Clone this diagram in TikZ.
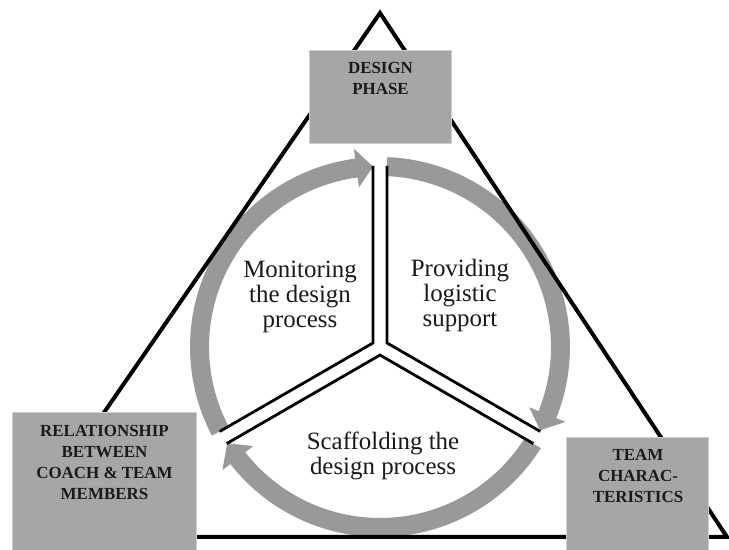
\documentclass[tikz,border=0pt]{standalone}
\usepackage{fontspec}
\setmainfont{Liberation Serif}
\definecolor{ringgray}{HTML}{999999}
\definecolor{boxgray}{HTML}{A6A6A6}
\definecolor{boxedge}{HTML}{CFCFCF}
\definecolor{textblack}{HTML}{1A1A1A}
\begin{document}
\begin{tikzpicture}[x=1bp,y=1bp,
  band/.style={fill=ringgray, draw=none},
  divider/.style={draw=black, line width=2.8bp, line join=miter},
  frame/.style={draw=black, line width=4bp, line join=miter},
  box/.style={fill=boxgray, draw=boxedge, line width=0.8bp, inner sep=0, anchor=south west},
  boxtext/.style={anchor=base, font=\fontsize{17}{21}\selectfont\bfseries, text=textblack, inner sep=0},
  cycletext/.style={anchor=base, font=\fontsize{25}{25}\selectfont, text=textblack, inner sep=0}]
\useasboundingbox (0,0) rectangle (729,550);
\fill[white] (0,0) rectangle (729,550);
\coordinate (C) at (380,203);
% ring arcs with arrowheads
\begin{scope}[shift={(C)}]
\fill[band] (207.8:190) arc[start angle=207.8,end angle=97.5,radius=190] -- (97.5:200) -- (92.2:180.5) -- (97.5:161) -- (97.5:171) arc[start angle=97.5,end angle=207.8,radius=171] -- cycle;
\fill[band] (87.8:190) arc[start angle=87.8,end angle=-22,radius=190] -- (-22:200) -- (-27.5:180.5) -- (-22:161) -- (-22:171) arc[start angle=-22,end angle=87.8,radius=171] -- cycle;
\fill[band] (-32.2:190) arc[start angle=-32.2,end angle=-142,radius=190] -- (-142:200) -- (-147.8:180.5) -- (-142:161) -- (-142:171) arc[start angle=-142,end angle=-32.2,radius=171] -- cycle;
\coordinate (k1) at (150:8.08);
\coordinate (k2) at (30:8.08);
\coordinate (k3) at (270:8.08);
\end{scope}
% triangle
\coordinate (apex) at (380,537);
\coordinate (bl) at (18,13);
\coordinate (br) at (727,13);
\draw[frame] (apex) -- (br) -- (bl) -- cycle;
% dividers
\draw[divider] ([shift={(90:177)}]k1) -- (k1) -- ([shift={(210:177)}]k1);
\draw[divider] ([shift={(90:177)}]k2) -- (k2) -- ([shift={(330:177)}]k2);
\draw[divider] ([shift={(210:177)}]k3) -- (k3) -- ([shift={(330:177)}]k3);
% boxes
\node[box, minimum width=143, minimum height=94] (design) at (309,406) {};
\node[box, minimum width=185, minimum height=146] (relation) at (12,-8) {};
\node[box, minimum width=143, minimum height=121] (team) at (566,-8) {};
\node[boxtext] (designtext) at (380.5,476) {\begin{tabular}[t]{@{}c@{}}DESIGN\\PHASE\end{tabular}};
\node[boxtext] (relationtext) at (104.5,113) {\begin{tabular}[t]{@{}c@{}}RELATIONSHIP\\BETWEEN\\COACH \& TEAM\\MEMBERS\end{tabular}};
\node[boxtext] (teamtext) at (638,89) {\begin{tabular}[t]{@{}c@{}}TEAM\\CHARAC-\\TERISTICS\end{tabular}};
% cycle texts
\node[cycletext] (monitor) at (300,272) {\begin{tabular}[t]{@{}c@{}}Monitoring\\the design\\process\end{tabular}};
\node[cycletext] (provide) at (460,273) {\begin{tabular}[t]{@{}c@{}}Providing\\logistic\\support\end{tabular}};
\node[cycletext] (scaffold) at (383,100) {\begin{tabular}[t]{@{}c@{}}Scaffolding the\\design process\end{tabular}};
\end{tikzpicture}
\end{document}
